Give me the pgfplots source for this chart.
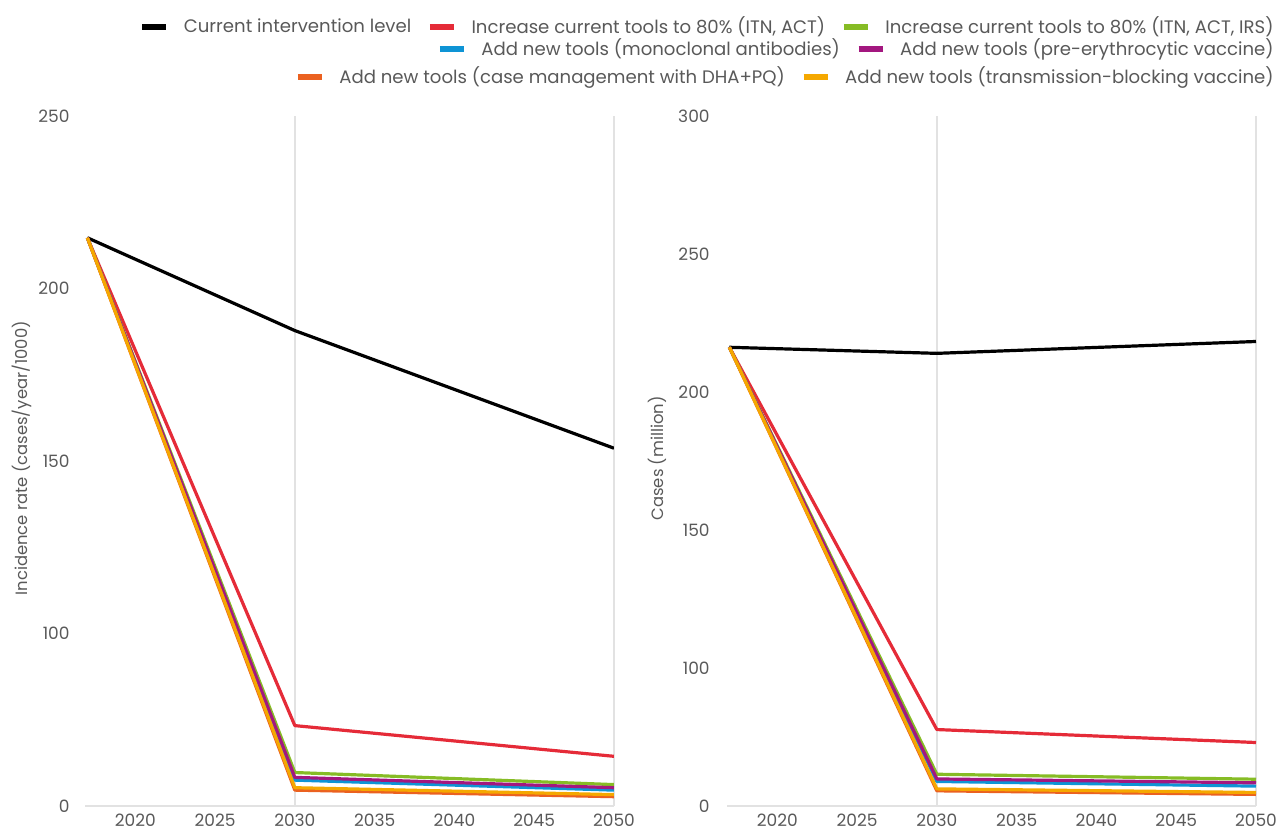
\documentclass[border=0pt]{standalone}
\usepackage{fontspec}
\setmainfont{Poppins}
\usepackage{pgfplots}
\pgfplotsset{compat=1.18}

\definecolor{txt}{HTML}{595959}
\definecolor{gridc}{HTML}{E2E2E2}
\definecolor{cred}{HTML}{E52B38}
\definecolor{cgreen}{HTML}{86BC25}
\definecolor{cblue}{HTML}{0E94D5}
\definecolor{cpurple}{HTML}{A3177F}
\definecolor{corange}{HTML}{EB6120}
\definecolor{cyellow}{HTML}{F5A800}

\pgfplotsset{
  panel/.style={
    scale only axis,
    width=264.5pt, height=345pt,
    xmin=2016.85, xmax=2050,
    axis x line*=bottom, axis y line*=left,
    y axis line style={draw=none},
    x axis line style={draw=gridc, line width=0.9pt},
    major tick length=0pt,
    xtick={2020,2025,2030,2035,2040,2045,2050},
    xticklabels={2020,2025,2030,2035,2040,2045,2050},
    extra x ticks={2030,2050},
    extra x tick labels={},
    extra x tick style={grid=major, major grid style={draw=gridc, line width=0.9pt}},
    ticklabel style={font=\fontsize{8.5}{10}\selectfont, text=txt, inner sep=0pt},
    xticklabel style={yshift=-4pt},
    label style={font=\fontsize{8.2}{10}\selectfont, text=txt},
    every axis plot/.append style={line width=1.6pt, line join=round},
    legend style={draw=none, fill=none, inner sep=0pt, anchor=east,
      font=\fontsize{9.05}{12}\selectfont, text=txt,
      nodes={inner sep=0pt},
      /tikz/every odd column/.append style={column sep=7.5pt},
      /tikz/every even column/.append style={column sep=8pt}},
    legend image code/.code={\draw[line width=2.6pt] (0pt,0pt) -- (12pt,0pt);},
  },
  legendrow/.style={panel, hide axis, at={(321pt,0pt)}, anchor=south west,
    ymin=0, ymax=1, legend columns=-1},
}

\begin{document}
\begin{tikzpicture}
\useasboundingbox (-42.5pt,-12pt) rectangle (595.5pt,403pt);

% left panel: incidence rate
\begin{axis}[panel, name=left, at={(0pt,0pt)}, anchor=south west,
  ymin=50, ymax=250,
  ytick={50,100,150,200,250},
  yticklabels={0,100,150,200,250},
  yticklabel style={xshift=-7.5pt},
  ylabel={Incidence rate (cases/year/1000)},
  ylabel style={at={(axis description cs:-0.119,0.504)}, anchor=center},
]
\addplot[black] coordinates {(2017,214.7) (2030,187.8) (2050,153.7)};
\addplot[cred] coordinates {(2017,214.7) (2030,73.3) (2050,64.4)};
\addplot[cgreen] coordinates {(2017,214.7) (2030,59.7) (2050,56.2)};
\addplot[cblue] coordinates {(2017,214.7) (2030,57.5) (2050,54.6)};
\addplot[cpurple] coordinates {(2017,214.7) (2030,58.3) (2050,55.3)};
\addplot[corange] coordinates {(2017,214.7) (2030,54.6) (2050,52.7)};
\addplot[cyellow] coordinates {(2017,214.7) (2030,55.3) (2050,53.3)};
\end{axis}

% right panel: cases
\begin{axis}[panel, name=right, at={(321pt,0pt)}, anchor=south west,
  ymin=50, ymax=300,
  ytick={50,100,150,200,250,300},
  yticklabels={0,100,150,200,250,300},
  yticklabel style={xshift=-8.5pt},
  ylabel={Cases (million)},
  ylabel style={at={(axis description cs:-0.132,0.504)}, anchor=center},
]
\addplot[black] coordinates {(2017,216.2) (2030,214.0) (2050,218.3)};
\addplot[cred] coordinates {(2017,216.2) (2030,77.7) (2050,73.0)};
\addplot[cgreen] coordinates {(2017,216.2) (2030,61.5) (2050,59.7)};
\addplot[cblue] coordinates {(2017,216.2) (2030,58.9) (2050,57.2)};
\addplot[cpurple] coordinates {(2017,216.2) (2030,59.8) (2050,58.4)};
\addplot[corange] coordinates {(2017,216.2) (2030,55.5) (2050,54.2)};
\addplot[cyellow] coordinates {(2017,216.2) (2030,56.2) (2050,54.9)};
\end{axis}

% legend, three right-aligned rows
\begin{axis}[legendrow, legend style={at={(axis description cs:1.034,1.129)}}]
\addlegendimage{black}
\addlegendentry{Current intervention level}
\addlegendimage{cred}
\addlegendentry{Increase current tools to 80\% (ITN, ACT)}
\addlegendimage{cgreen}
\addlegendentry{Increase current tools to 80\% (ITN, ACT, IRS)}
\end{axis}
\begin{axis}[legendrow, legend style={at={(axis description cs:1.034,1.0971)}}]
\addlegendimage{cblue}
\addlegendentry{Add new tools (monoclonal antibodies)}
\addlegendimage{cpurple}
\addlegendentry{Add new tools (pre-erythrocytic vaccine)}
\end{axis}
\begin{axis}[legendrow, legend style={at={(axis description cs:1.034,1.0565)}}]
\addlegendimage{corange}
\addlegendentry{Add new tools (case management with DHA+PQ)}
\addlegendimage{cyellow}
\addlegendentry{Add new tools (transmission-blocking vaccine)}
\end{axis}
\end{tikzpicture}
\end{document}
